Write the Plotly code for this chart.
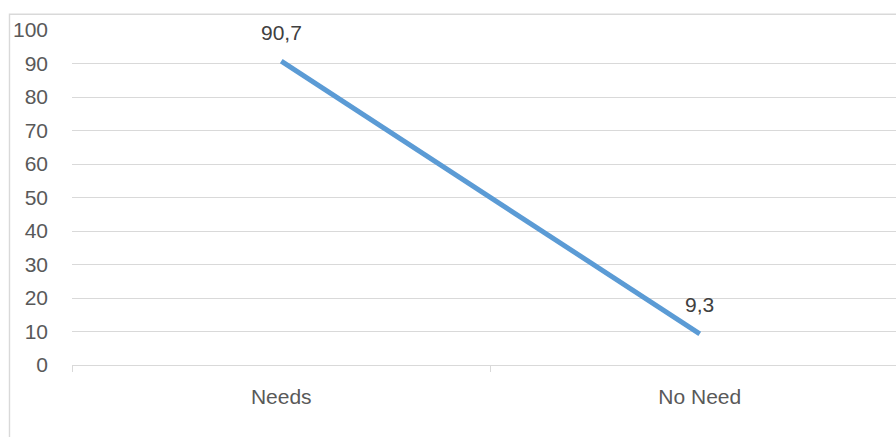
import plotly.graph_objects as go

# Share of respondents by answer
categories = ["Needs", "No Need"]
values = [90.7, 9.3]
y_ticks = [0, 10, 20, 30, 40, 50, 60, 70, 80, 90, 100]

TEXT = "#595959"
GRID = "#d9d9d9"
FONT = "Liberation Sans, Arial, sans-serif"
SIZE = 21

fig = go.Figure()
fig.add_trace(go.Scatter(
    x=categories,
    y=values,
    mode="lines",
    line=dict(color="#5B9BD5", width=5),
    hoverinfo="skip",
    showlegend=False,
))

# Value labels above each point (comma as decimal separator)
for c, v in zip(categories, values):
    fig.add_annotation(
        x=c, y=v, text=f"{v:.1f}".replace(".", ","),
        showarrow=False, yshift=29,
        font=dict(family=FONT, size=SIZE, color="#404040"),
    )

# Outer chart frame
fig.add_shape(
    type="rect", xref="paper", yref="paper",
    x0=(9.5 - 72) / 824, x1=1.3, y0=-0.5, y1=1 + (30 - 14.3) / 335,
    line=dict(color=GRID, width=1.4), fillcolor="rgba(0,0,0,0)", layer="below",
)

fig.update_layout(
    width=896, height=437,
    margin=dict(l=72, r=0, t=30, b=72),
    paper_bgcolor="white", plot_bgcolor="white",
    font=dict(family=FONT, size=SIZE, color=TEXT),
    xaxis=dict(
        type="category",
        range=[-0.5, -0.5 + 824 / 418.5],
        showgrid=False, zeroline=False,
        showline=True, linecolor=GRID, linewidth=1.4,
        ticks="outside", tickson="boundaries", ticklen=6, tickcolor=GRID, tickwidth=1.4,
        tickfont=dict(family=FONT, size=SIZE, color=TEXT),
        ticklabelstandoff=13,
    ),
    yaxis=dict(
        range=[0, 100], tickvals=y_ticks,
        showgrid=True, gridcolor=GRID, gridwidth=1.4,
        zeroline=False, showline=False, ticks="",
        tickfont=dict(family=FONT, size=SIZE, color=TEXT),
        ticklabelstandoff=23,
    ),
)

fig.write_html("out.html")
